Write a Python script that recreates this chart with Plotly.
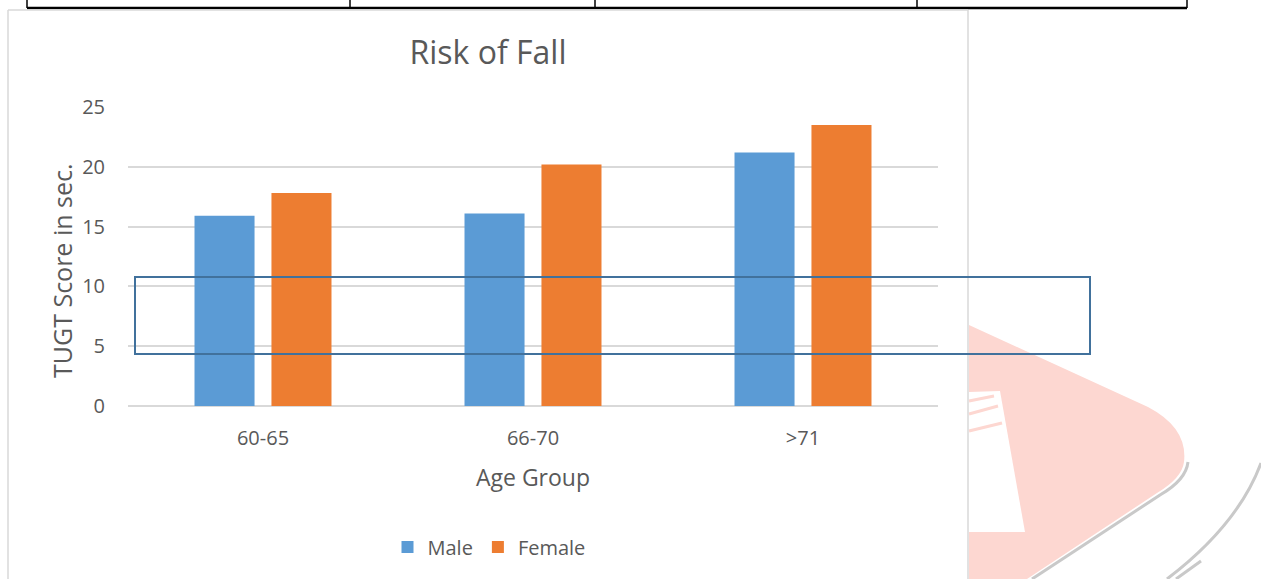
import plotly.graph_objects as go

# Data
age_groups = ["60-65", "66-70", ">71"]
male_scores = [15.9, 16.1, 21.2]
female_scores = [17.8, 20.2, 23.5]
y_ticks = [0, 5, 10, 15, 20, 25]

W, H = 1261, 579
L, R, T, B = 128, 938, 107, 406  # plot area in pixels
TEXT = "#595959"
GRID = "#d9d9d9"
FONT = "Open Sans"


def px(x):
    return (x - L) / (R - L)


def py(y):
    return (B - y) / (B - T)


def path(points, close=True):
    s = "M " + " L ".join(f"{px(x):.5f},{py(y):.5f}" for x, y in points)
    return s + (" Z" if close else "")


fig = go.Figure()
fig.add_trace(go.Bar(name="Male", x=age_groups, y=male_scores,
                     marker=dict(color="#5B9BD5", line=dict(width=0))))
fig.add_trace(go.Bar(name="Female", x=age_groups, y=female_scores,
                     marker=dict(color="#ED7D31", line=dict(width=0))))

shapes = []
# page decoration: table rule above the chart
shapes.append(dict(type="line", xref="paper", yref="paper",
                   x0=px(27), x1=px(1187), y0=py(8), y1=py(8),
                   line=dict(color="black", width=2.5)))
for xv in [27, 350, 595, 917, 1187]:
    shapes.append(dict(type="line", xref="paper", yref="paper",
                       x0=px(xv), x1=px(xv), y0=py(0), y1=py(8),
                       line=dict(color="black", width=1.5)))
# chart frame
for (x0, y0, x1, y1) in [(8, 10, 968, 10), (8, 10, 8, 579), (968, 10, 968, 579)]:
    shapes.append(dict(type="line", xref="paper", yref="paper",
                       x0=px(x0), x1=px(x1), y0=py(y0), y1=py(y1),
                       line=dict(color=GRID, width=1.5)))

# watermark: grey shadow strokes
shapes.append(dict(type="path", xref="paper", yref="paper", layer="below",
                   path=f"M {px(1188):.5f},{py(462):.5f} Q {px(1186):.5f},{py(480):.5f} {px(1160):.5f},{py(495):.5f} L {px(1032):.5f},{py(579):.5f}",
                   line=dict(color="#c9c9c9", width=3)))
shapes.append(dict(type="path", xref="paper", yref="paper", layer="below",
                   path=f"M {px(1261):.5f},{py(463):.5f} Q {px(1238):.5f},{py(525):.5f} {px(1167):.5f},{py(579):.5f}",
                   line=dict(color="#c9c9c9", width=3)))
shapes.append(dict(type="line", xref="paper", yref="paper", layer="below",
                   x0=px(1201), y0=py(561), x1=px(1176), y1=py(579),
                   line=dict(color="#c9c9c9", width=3)))
# watermark: pink body
shapes.append(dict(type="path", xref="paper", yref="paper", layer="below",
                   path=(f"M {px(969):.5f},{py(325):.5f} L {px(1148):.5f},{py(407):.5f} "
                         f"Q {px(1188):.5f},{py(428):.5f} {px(1184):.5f},{py(462):.5f} "
                         f"Q {px(1182):.5f},{py(478):.5f} {px(1157):.5f},{py(493):.5f} "
                         f"L {px(1027):.5f},{py(579):.5f} L {px(969):.5f},{py(579):.5f} Z"),
                   fillcolor="#fdd7d1", line=dict(width=0)))
# watermark: white cut-out
shapes.append(dict(type="path", xref="paper", yref="paper", layer="below",
                   path=path([(969, 392), (1000, 391), (1025, 532), (969, 532)]),
                   fillcolor="white", line=dict(width=0)))
for (a, b) in [((969, 401), (994, 396)), ((969, 414), (998, 406)), ((969, 431), (1002, 423))]:
    shapes.append(dict(type="line", xref="paper", yref="paper", layer="below",
                       x0=px(a[0]), y0=py(a[1]), x1=px(b[0]), y1=py(b[1]),
                       line=dict(color="#fdd7d1", width=3)))

# highlighted band across the chart
shapes.append(dict(type="rect", xref="paper", yref="paper", layer="above",
                   x0=px(135), x1=px(1090), y0=py(354), y1=py(277),
                   line=dict(color="#41719C", width=2), fillcolor="rgba(0,0,0,0)"))

annotations = [
    dict(text="TUGT Score in sec.", xref="paper", yref="paper", x=px(62), y=py(271),
         xanchor="center", yanchor="middle", textangle=-90, showarrow=False,
         font=dict(size=25, color=TEXT, family=FONT)),
]

fig.update_layout(
    width=W, height=H,
    margin=dict(l=L, r=W - R, t=T, b=H - B, autoexpand=False),
    paper_bgcolor="white", plot_bgcolor="white",
    font=dict(family=FONT, color=TEXT, size=20),
    barmode="group", bargap=0.43, bargroupgap=0.22,
    title=dict(text="Risk of Fall", x=px(488), xref="paper", xanchor="center",
               y=1 - 53 / H, yanchor="middle", font=dict(size=32, color=TEXT)),
    legend=dict(orientation="h", x=px(489), xanchor="center", y=py(547), yanchor="middle",
                font=dict(size=20, color=TEXT), itemwidth=30, bgcolor="rgba(0,0,0,0)"),
    shapes=shapes,
    annotations=annotations,
    xaxis=dict(showline=False, ticks="", showgrid=False, tickfont=dict(size=20),
               ticklabelstandoff=18,
               title=dict(text="Age Group", font=dict(size=23), standoff=19)),
    yaxis=dict(range=[0, 25], tickvals=y_ticks, showgrid=True, gridcolor=GRID, gridwidth=1.5,
               zeroline=True, zerolinecolor=GRID, zerolinewidth=1.5, showline=False, ticks="",
               tickfont=dict(size=20), ticklabelstandoff=22),
)

fig.write_html("out.html")
